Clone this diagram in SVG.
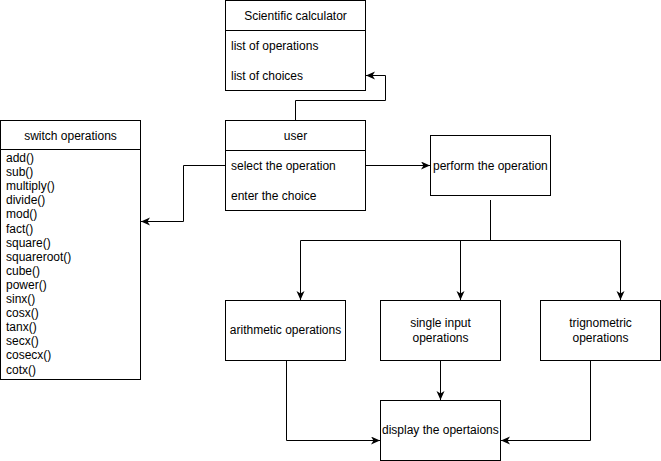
<svg xmlns="http://www.w3.org/2000/svg" width="661" height="461" viewBox="0 0 661 461">
<style>
.box{fill:#fff;stroke:#000;stroke-width:1}
.ln{fill:none;stroke:#000;stroke-width:1}
.c{stroke:#000;stroke-width:1;fill:none;marker-end:url(#arr)}
text{font-family:"Liberation Sans",Arial,sans-serif;font-size:12px;fill:#000}
.m{text-anchor:middle}
</style>
<defs>
<marker id="arr" markerUnits="userSpaceOnUse" markerWidth="10" markerHeight="10" refX="9" refY="4" orient="auto">
<path d="M0,0 L9,4 L0,8 L2.5,4 Z" fill="#000"/>
</marker>
</defs>
<rect width="661" height="461" fill="#fff"/>
<g id="calc">
<rect class="box" x="225.5" y="0.5" width="140" height="90"/>
<line class="ln" x1="225.5" y1="30.5" x2="365.5" y2="30.5"/>
<text class="m" x="295.5" y="19.5">Scientific calculator</text>
<text x="231" y="50">list of operations</text>
<text x="231" y="80">list of choices</text>
</g>
<g id="user">
<rect class="box" x="225.5" y="120.5" width="140" height="90"/>
<line class="ln" x1="225.5" y1="150.5" x2="365.5" y2="150.5"/>
<text class="m" x="295.5" y="140">user</text>
<text x="231" y="170">select the operation</text>
<text x="231" y="200">enter the choice</text>
</g>
<g id="switch">
<rect class="box" x="0.5" y="120.5" width="140" height="259"/>
<line class="ln" x1="0.5" y1="149.5" x2="140.5" y2="149.5"/>
<text class="m" x="70.5" y="140">switch operations</text>
<text x="6" y="162">add()</text>
<text x="6" y="176.1">sub()</text>
<text x="6" y="190.2">multiply()</text>
<text x="6" y="204.3">divide()</text>
<text x="6" y="218.4">mod()</text>
<text x="6" y="232.5">fact()</text>
<text x="6" y="246.6">square()</text>
<text x="6" y="260.7">squareroot()</text>
<text x="6" y="274.8">cube()</text>
<text x="6" y="288.9">power()</text>
<text x="6" y="303">sinx()</text>
<text x="6" y="317.1">cosx()</text>
<text x="6" y="331.2">tanx()</text>
<text x="6" y="345.3">secx()</text>
<text x="6" y="359.4">cosecx()</text>
<text x="6" y="373.5">cotx()</text>
</g>
<g id="perform">
<rect class="box" x="430.5" y="135.5" width="120" height="60"/>
<text x="433" y="169.5">perform the operation</text>
</g>
<g id="arith">
<rect class="box" x="225.5" y="300.5" width="120" height="60"/>
<text class="m" x="285.5" y="334">arithmetic operations</text>
</g>
<g id="single">
<rect class="box" x="380.5" y="300.5" width="120" height="60"/>
<text class="m" x="440.5" y="327">single input</text>
<text class="m" x="440.5" y="342">operations</text>
</g>
<g id="trig">
<rect class="box" x="540.5" y="300.5" width="120" height="60"/>
<text class="m" x="600.5" y="327">trignometric</text>
<text class="m" x="600.5" y="342">operations</text>
</g>
<g id="display">
<rect class="box" x="380.5" y="400.5" width="120" height="60"/>
<text x="382" y="434">display the opertaions</text>
</g>
<g id="connectors">
<path class="c" d="M295.5,120 V100.5 H385.5 V75.5 H366"/>
<path class="c" d="M225,165.5 H183.5 V221.5 H141"/>
<path class="c" d="M365,165.5 H430"/>
<path class="ln" d="M490.5,200 V240.5 M300.5,240.5 H620.5"/>
<path class="c" d="M300.5,240.5 V300"/>
<path class="c" d="M460.5,240.5 V300"/>
<path class="c" d="M620.5,240.5 V300"/>
<path class="c" d="M286.5,360 V440.5 H380"/>
<path class="c" d="M440.5,360 V400"/>
<path class="c" d="M590.5,360 V440.5 H501"/>
</g>
</svg>
